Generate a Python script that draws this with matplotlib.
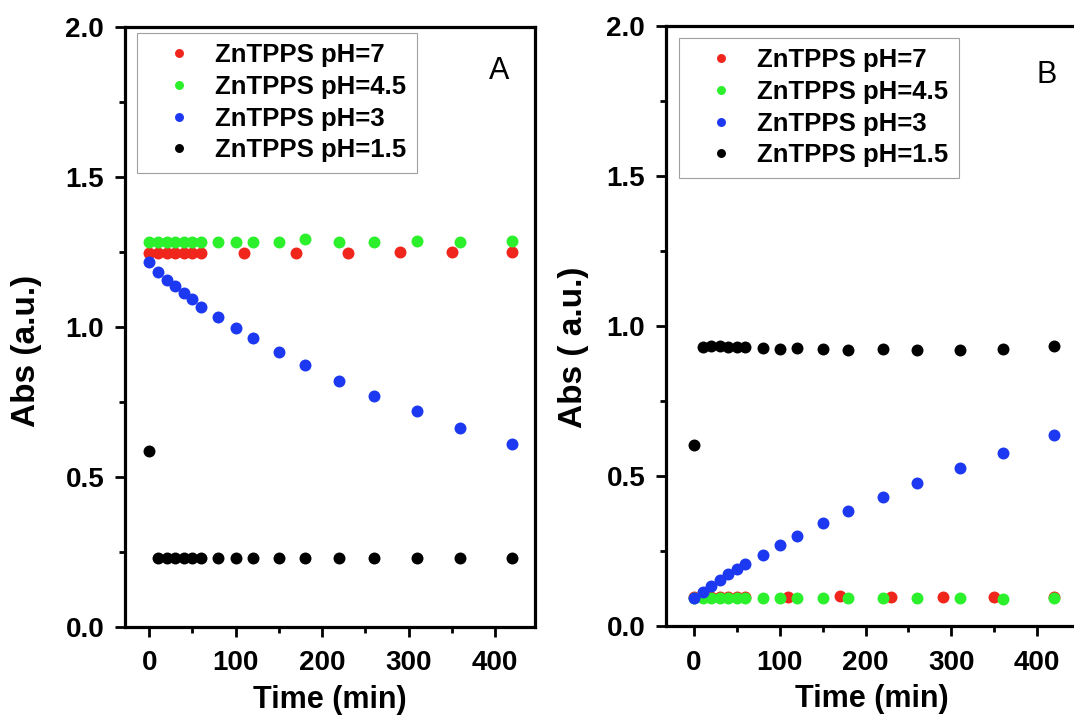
import matplotlib
matplotlib.use("Agg")
import matplotlib.pyplot as plt
from matplotlib.ticker import MultipleLocator

plt.rcParams['font.family'] = ['Liberation Sans', 'DejaVu Sans']

# sampling times (min)
t = [0, 10, 20, 30, 40, 50, 60, 80, 100, 120, 150, 180, 220, 260, 310, 360, 420]
t_ph7 = [0, 10, 20, 30, 40, 50, 60, 110, 170, 230, 290, 350, 420]

# panel A
a_ph7 = [1.247, 1.247, 1.247, 1.247, 1.247, 1.247, 1.247, 1.247, 1.245, 1.247, 1.250, 1.250, 1.248]
a_ph45 = [1.283, 1.283, 1.283, 1.283, 1.283, 1.283, 1.283, 1.283, 1.283, 1.281, 1.281,
          1.291, 1.283, 1.283, 1.287, 1.283, 1.287]
a_ph3 = [1.217, 1.183, 1.156, 1.136, 1.113, 1.091, 1.067, 1.031, 0.995, 0.963, 0.917,
         0.872, 0.820, 0.770, 0.719, 0.663, 0.608]
a_ph15 = [0.587, 0.228, 0.228, 0.229, 0.228, 0.228, 0.228, 0.228, 0.228, 0.228, 0.228,
          0.229, 0.228, 0.228, 0.228, 0.230, 0.230]

# panel B
b_ph7 = [0.097, 0.097, 0.097, 0.097, 0.097, 0.097, 0.097, 0.098, 0.099, 0.098, 0.098, 0.098, 0.097]
b_ph45 = [0.092, 0.092, 0.092, 0.092, 0.092, 0.092, 0.092, 0.092, 0.092, 0.092, 0.092,
          0.092, 0.092, 0.092, 0.092, 0.091, 0.092]
b_ph3 = [0.092, 0.114, 0.134, 0.153, 0.172, 0.190, 0.207, 0.237, 0.270, 0.301, 0.344,
         0.383, 0.431, 0.477, 0.528, 0.577, 0.637]
b_ph15 = [0.603, 0.931, 0.933, 0.933, 0.931, 0.931, 0.931, 0.928, 0.922, 0.926, 0.922,
          0.920, 0.922, 0.920, 0.919, 0.922, 0.933]

labels = ['ZnTPPS pH=7', 'ZnTPPS pH=4.5', 'ZnTPPS pH=3', 'ZnTPPS pH=1.5']
colors = ['#f0261c', '#2cf02c', '#1c38f0', '#000000']

W, H = 1074, 719
fig = plt.figure(figsize=(W / 100, H / 100), dpi=100)

def px_axes(left, right, top, bottom):
    return fig.add_axes([left / W, (H - bottom) / H, (right - left) / W, (bottom - top) / H])

axA = px_axes(125, 535, 26.7, 626.7)
axB = px_axes(666, 1077, 26, 626)

panels = [
    (axA, [a_ph7, a_ph45, a_ph3, a_ph15], (-28.1, 446.4), 'Abs (a.u.)', (-0.241, 0.46),
     'A', (499, 71), (137, 33)),
    (axB, [b_ph7, b_ph45, b_ph3, b_ph15], (-32.6, 446.4), 'Abs ( a.u.)', (-0.224, 0.465),
     'B', (1047, 75), (679, 38)),
]

for ax, series, xlim, ylab, ylab_xy, tag, tag_xy, leg_xy in panels:
    for i, (y, lab, c) in enumerate(zip(series, labels, colors)):
        xs = t_ph7 if i == 0 else t
        ax.plot(xs, y, 'o', color=c, ms=8.6, mew=0, label=lab, clip_on=False)

    ax.set_xlim(*xlim)
    ax.set_ylim(0, 2.0)
    ax.xaxis.set_major_locator(MultipleLocator(100))
    ax.xaxis.set_minor_locator(MultipleLocator(50))
    ax.yaxis.set_major_locator(MultipleLocator(0.5))
    ax.yaxis.set_minor_locator(MultipleLocator(0.25))
    ax.yaxis.set_major_formatter(matplotlib.ticker.FormatStrFormatter('%.1f'))

    for s in ['left', 'bottom', 'top', 'right']:
        ax.spines[s].set_linewidth(2.3)
    ax.tick_params(which='both', direction='out', width=2.0, top=False, right=False)
    ax.tick_params(which='major', length=7, labelsize=20)
    ax.tick_params(axis='x', which='major', pad=10)
    ax.tick_params(axis='y', which='major', pad=8)
    ax.tick_params(which='minor', length=4.5)
    for lbl in ax.get_xticklabels() + ax.get_yticklabels():
        lbl.set_fontweight('bold')

    ax.set_xlabel('Time (min)', fontsize=22, fontweight='bold', labelpad=6)
    ax.set_ylabel(ylab, fontsize=24, fontweight='bold')
    ax.yaxis.set_label_coords(*ylab_xy)
    ax.yaxis.label.set_va('center')

    fig.text(tag_xy[0] / W, 1 - tag_xy[1] / H, tag, fontsize=22, ha='center', va='center')

    leg = ax.legend(loc='upper left', bbox_to_anchor=(leg_xy[0] / W, 1 - leg_xy[1] / H),
                    bbox_transform=fig.transFigure, borderaxespad=0, frameon=True,
                    fancybox=False, edgecolor='#a0a0a0', framealpha=1,
                    prop={'size': 18.5, 'weight': 'bold'}, markerscale=0.75,
                    handlelength=2.5, handletextpad=0.15, labelspacing=0.3,
                    borderpad=0.4, numpoints=1)
    leg.get_frame().set_linewidth(0.8)

fig.savefig('out.png', dpi=100)
